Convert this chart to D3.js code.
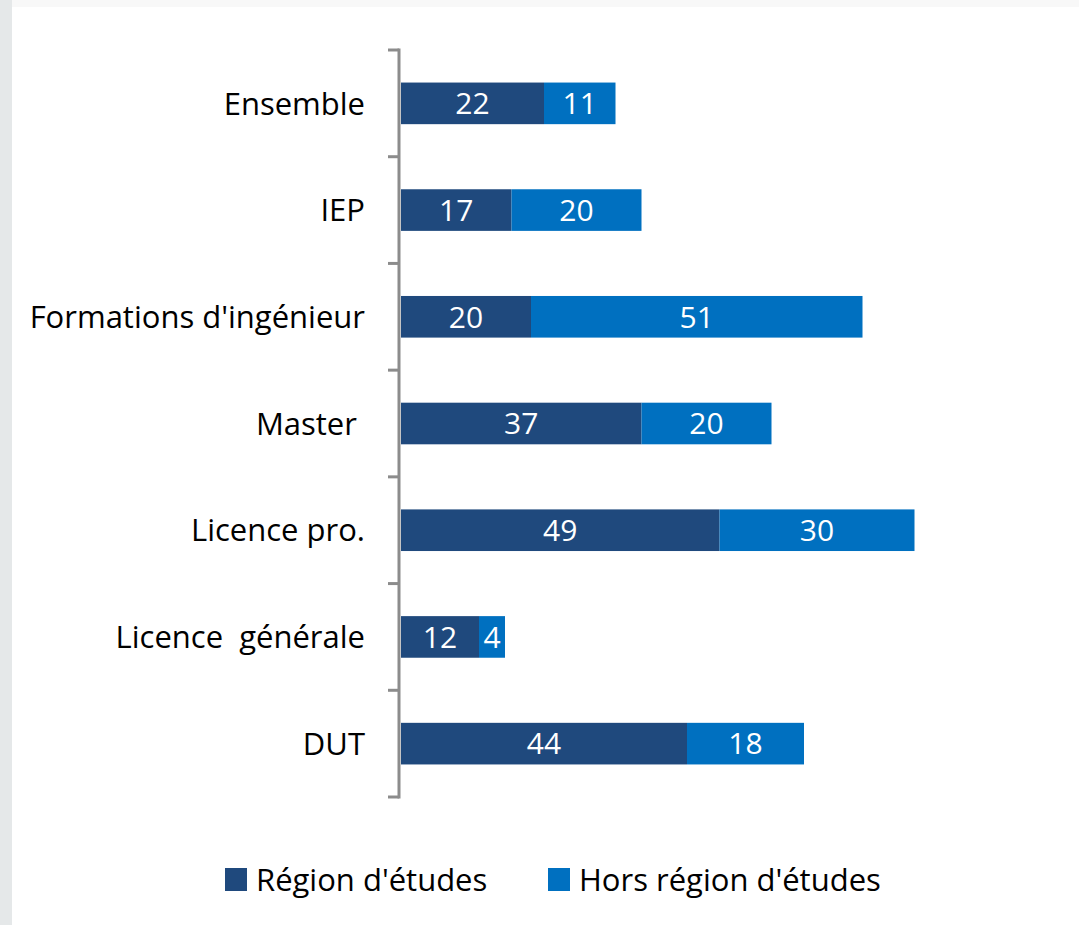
<!DOCTYPE html>
<html>
<head>
<meta charset="utf-8">
<script src="https://cdnjs.cloudflare.com/ajax/libs/d3/7.8.5/d3.min.js"></script>
<style>
  body { margin: 0; background: #fff; }
  svg { display: block; }
</style>
</head>
<body>
<svg></svg>
<script>
const categories = ["Ensemble", "IEP", "Formations d'ingénieur", "Master ", "Licence pro.", "Licence  générale", "DUT"]
const regionEtudes = [22, 17, 20, 37, 49, 12, 44]
const horsRegion = [11, 20, 51, 20, 30, 4, 18]
const seriesNames = ["Région d'études", "Hors région d'études"]
const colors = ["#1f497d", "#0070c0"]

const width = 1079, height = 925
const svg = d3.select("svg").attr("width", width).attr("height", height)

// background frame
svg.append("rect").attr("width", width).attr("height", height).attr("fill", "#f8f8f8")
svg.append("rect").attr("x", 0).attr("y", 0).attr("width", 12).attr("height", height).attr("fill", "#e5e8e9")
svg.append("rect").attr("x", 12).attr("y", 7).attr("width", width - 12).attr("height", height - 7).attr("fill", "#ffffff")

const margin = { top: 50, left: 399 }
const innerHeight = 747

const font = "'Open Sans', sans-serif"

const data = categories.map((c, i) => ({ cat: c, a: regionEtudes[i], b: horsRegion[i] }))

const yScale = d3.scaleBand()
  .domain(categories)
  .range([0, innerHeight])
  .paddingInner(0.61)
  .paddingOuter(0.305)

const xScale = d3.scaleLinear()
  .domain([0, 100])
  .range([0, 650])

const g = svg.append("g").attr("transform", `translate(${margin.left},${margin.top})`)

const stack = d3.stack().keys(["a", "b"])(data)

stack.forEach((layer, k) => {
  g.selectAll(null)
    .data(layer)
    .enter().append("rect")
      .attr("x", d => xScale(d[0]) + 2)
      .attr("y", d => yScale(d.data.cat))
      .attr("width", d => xScale(d[1]) - xScale(d[0]))
      .attr("height", yScale.bandwidth())
      .attr("fill", colors[k])

  g.selectAll(null)
    .data(layer)
    .enter().append("text")
      .attr("x", d => xScale((d[0] + d[1]) / 2) + 2)
      .attr("y", d => yScale(d.data.cat) + yScale.bandwidth() / 2)
      .attr("dy", "0.36em")
      .attr("text-anchor", "middle")
      .attr("fill", "#fff")
      .style("font-family", font)
      .style("font-size", "30px")
      .text(d => d.data[k === 0 ? "a" : "b"])
})

// category axis with ticks between categories
const step = yScale.step()
const tickYs = d3.range(categories.length + 1).map(i => i * step)
g.selectAll(".tick")
  .data(tickYs)
  .enter().append("line")
    .attr("x1", -11).attr("x2", 0)
    .attr("y1", d => d).attr("y2", d => d)
    .attr("stroke", "#8c8c8c").attr("stroke-width", 3)
g.append("line")
  .attr("x1", 0).attr("x2", 0)
  .attr("y1", -1.5).attr("y2", innerHeight + 1.5)
  .attr("stroke", "#8c8c8c").attr("stroke-width", 3)

g.selectAll(".cat")
  .data(categories)
  .enter().append("text")
    .attr("x", -34)
    .attr("y", d => yScale(d) + yScale.bandwidth() / 2)
    .attr("dy", "0.36em")
    .attr("text-anchor", "end")
    .attr("fill", "#000")
    .style("font-family", font)
    .style("font-size", "31px")
    .style("white-space", "pre")
    .text(d => d)

// legend
const legendX = [225, 548]
const legend = svg.append("g")
seriesNames.forEach((name, i) => {
  legend.append("rect")
    .attr("x", legendX[i]).attr("y", 868)
    .attr("width", 22).attr("height", 23)
    .attr("fill", colors[i])
  legend.append("text")
    .attr("x", legendX[i] + 31).attr("y", 880)
    .attr("dy", "0.36em")
    .attr("fill", "#000")
    .style("font-family", font)
    .style("font-size", "31px")
    .text(name)
})
</script>
</body>
</html>
